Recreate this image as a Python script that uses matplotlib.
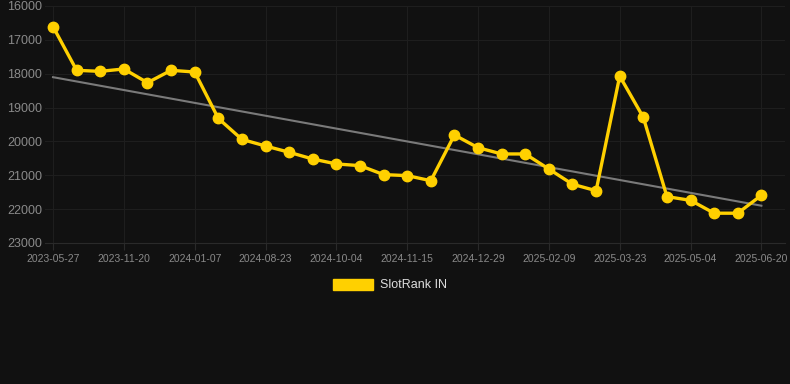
import numpy as np
import matplotlib.pyplot as plt
from matplotlib.patches import Patch

# rank values, one per snapshot (equal spacing on the x axis)
ranks = [16610, 17900, 17930, 17860, 18265, 17900, 17950, 19320, 19940, 20135,
         20320, 20520, 20665, 20715, 20980, 21010, 21160, 19810, 20185, 20370,
         20370, 20815, 21265, 21455, 18070, 19290, 21630, 21740, 22120, 22120,
         21590]
tick_pos = [0, 3, 6, 9, 12, 15, 18, 21, 24, 27, 30]
tick_labels = ['2023-05-27', '2023-11-20', '2024-01-07', '2024-08-23', '2024-10-04',
               '2024-11-15', '2024-12-29', '2025-02-09', '2025-03-23', '2025-05-04',
               '2025-06-20']
y_ticks = [16000, 17000, 18000, 19000, 20000, 21000, 22000, 23000]

bg = '#111111'
yellow = '#ffd000'

plt.rcParams['font.family'] = ['Liberation Sans', 'DejaVu Sans']

fig = plt.figure(figsize=(7.9, 3.84), dpi=100, facecolor=bg)
ax = fig.add_axes([45 / 790, 1 - 243 / 384, 740 / 790, 237 / 384])
ax.set_facecolor(bg)

x = np.arange(len(ranks))
# trend line (least squares fit)
k, b = np.polyfit(x, ranks, 1)
ax.plot(x, k * x + b, color='#7a7a7a', lw=1.5, zorder=2)

ax.plot(x, ranks, color=yellow, lw=2.4, marker='o', ms=7.5, zorder=3)

ax.set_xlim(-0.34, 31.0)
ax.set_ylim(23000, 16000)
ax.set_xticks(tick_pos)
ax.set_xticklabels(tick_labels)
ax.set_yticks(y_ticks)

ax.grid(True, color='#1e1e1e', lw=0.8)
for s in ['top', 'right', 'left']:
    ax.spines[s].set_visible(False)
ax.spines['bottom'].set_color('#2a2a2a')
ax.tick_params(axis='x', colors='#2a2a2a', labelcolor='#8a8a8a', labelsize=7.5,
               length=5, pad=3)
ax.tick_params(axis='y', length=0, labelcolor='#8a8a8a', labelsize=9, pad=2)

leg = fig.legend(handles=[Patch(color=yellow, label='SlotRank IN')],
                 loc='center', bbox_to_anchor=(390 / 790, 1 - 285 / 384),
                 frameon=False, fontsize=9, handlelength=3.2, handleheight=1.0,
                 handletextpad=0.5)
for t in leg.get_texts():
    t.set_color('#dddddd')

fig.savefig('out.png', dpi=100, facecolor=bg)
